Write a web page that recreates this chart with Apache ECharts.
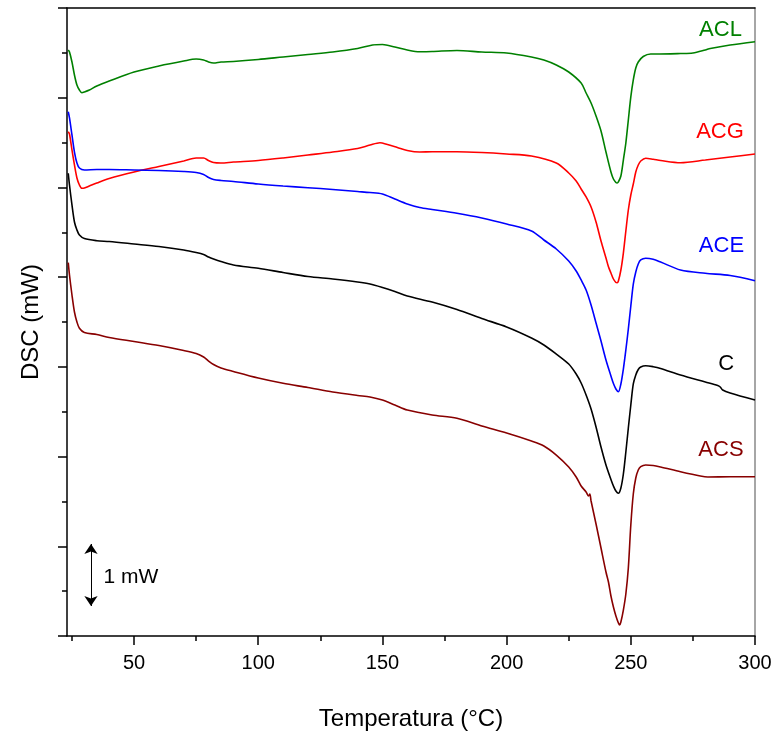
<!DOCTYPE html>
<html><head><meta charset="utf-8">
<script src="https://cdn.jsdelivr.net/npm/echarts@6/dist/echarts.min.js"></script>
<style>html,body{margin:0;padding:0;background:#fff}#c{width:773px;height:736px}</style>
</head><body><div id="c"></div>
<script>
const FONT = 'Liberation Sans, Arial, sans-serif';
const xMajorTicks = [50, 100, 150, 200, 250, 300];
const xMinorTicks = [25, 75, 125, 175, 225, 275];

const aclData = [[23.5,9.452],[24,9.419],[25,9.258],[26,9.048],[27,8.887],[28,8.806],[29,8.763],[30,8.774],[32,8.806],[35,8.871],[40,8.952],[50,9.097],[60,9.194],[70,9.274],[75,9.306],[78,9.290],[80,9.258],[82,9.242],[85,9.258],[90,9.266],[100,9.298],[110,9.339],[120,9.379],[130,9.419],[140,9.476],[146,9.532],[150,9.540],[155,9.5],[160,9.452],[165,9.424],[170,9.427],[180,9.444],[190,9.419],[200,9.403],[210,9.339],[215,9.290],[220,9.210],[225,9.097],[230,8.919],[232,8.758],[234,8.597],[236,8.387],[238,8.145],[240,7.806],[242,7.484],[243,7.371],[244,7.315],[244.5,7.306],[245,7.323],[246,7.419],[247,7.677],[248,7.952],[249,8.323],[250,8.694],[251,8.968],[252,9.161],[253,9.258],[255,9.347],[258,9.387],[260,9.387],[270,9.395],[275,9.403],[280,9.452],[282,9.476],[290,9.532],[300,9.585]];

const acgData = [[23.5,8.134],[24,8.097],[25,7.839],[26,7.597],[27,7.387],[28,7.274],[29,7.221],[30,7.226],[32,7.258],[35,7.306],[40,7.379],[50,7.484],[60,7.573],[70,7.661],[75,7.710],[78,7.710],[80,7.669],[82,7.637],[85,7.629],[90,7.645],[100,7.669],[110,7.710],[120,7.758],[130,7.806],[140,7.863],[145,7.919],[149,7.956],[152,7.927],[156,7.879],[160,7.831],[165,7.806],[170,7.811],[180,7.811],[190,7.798],[200,7.774],[210,7.742],[220,7.629],[225,7.468],[228,7.339],[230,7.210],[232,7.081],[234,6.919],[236,6.677],[238,6.371],[240,6.097],[241,5.956],[242,5.855],[243,5.758],[244,5.702],[244.5,5.698],[245,5.726],[246,5.903],[247,6.177],[248,6.532],[249,6.871],[250,7.113],[251,7.290],[252,7.484],[253,7.597],[254,7.661],[256,7.705],[259,7.689],[262,7.669],[270,7.634],[280,7.677],[290,7.726],[300,7.774]];

const aceData = [[23.5,8.456],[24,8.355],[25,8.081],[26,7.806],[27,7.629],[28,7.548],[30,7.516],[35,7.524],[40,7.524],[50,7.516],[60,7.508],[70,7.492],[75,7.476],[78,7.444],[80,7.395],[82,7.363],[85,7.347],[90,7.331],[100,7.290],[110,7.258],[120,7.231],[130,7.202],[140,7.169],[145,7.153],[150,7.129],[155,7.048],[160,6.968],[165,6.911],[170,6.879],[180,6.818],[190,6.742],[200,6.645],[210,6.532],[215,6.387],[220,6.242],[225,6.048],[228,5.887],[230,5.742],[232,5.581],[234,5.339],[236,5.048],[238,4.758],[240,4.452],[242,4.194],[243,4.073],[244,3.984],[245,3.940],[246,4.065],[247,4.306],[248,4.613],[249,4.952],[250,5.323],[251,5.677],[252,5.871],[253,6.0],[254,6.065],[256,6.092],[259,6.076],[262,6.032],[270,5.903],[280,5.850],[290,5.815],[300,5.731]];

const cData = [[23.5,7.463],[24,7.274],[25,6.952],[26,6.677],[27,6.548],[28,6.468],[30,6.411],[35,6.376],[40,6.363],[50,6.323],[60,6.282],[70,6.226],[75,6.185],[78,6.153],[80,6.113],[82,6.081],[85,6.040],[90,5.984],[100,5.931],[110,5.863],[120,5.798],[130,5.758],[140,5.710],[145,5.677],[150,5.621],[155,5.556],[160,5.484],[170,5.387],[180,5.266],[190,5.121],[200,4.984],[210,4.806],[215,4.694],[220,4.548],[225,4.387],[228,4.226],[230,4.081],[232,3.887],[234,3.661],[236,3.371],[238,3.048],[240,2.758],[242,2.524],[243,2.419],[244,2.339],[245,2.302],[246,2.387],[247,2.613],[248,2.968],[249,3.355],[250,3.726],[251,4.065],[252,4.210],[253,4.298],[254,4.339],[256,4.360],[259,4.344],[262,4.315],[270,4.210],[280,4.097],[285,4.040],[286,4.016],[287,3.968],[290,3.919],[300,3.806]];

const acsData = [[23.5,6.021],[24,5.823],[25,5.5],[26,5.226],[27,5.065],[28,4.963],[30,4.895],[35,4.863],[40,4.815],[50,4.750],[60,4.685],[70,4.605],[75,4.556],[78,4.5],[80,4.435],[82,4.379],[85,4.323],[90,4.266],[100,4.161],[110,4.076],[120,4.008],[130,3.935],[140,3.879],[145,3.855],[150,3.806],[155,3.726],[160,3.645],[170,3.565],[180,3.511],[190,3.387],[200,3.274],[210,3.145],[215,3.065],[220,2.919],[225,2.726],[228,2.565],[230,2.419],[232,2.323],[233,2.258],[233.5,2.290],[234,2.177],[236,1.806],[238,1.419],[240,1.032],[241,0.871],[242,0.645],[243,0.468],[244,0.323],[245,0.210],[245.5,0.177],[246,0.226],[247,0.419],[248,0.677],[249,1.097],[250,1.790],[251,2.290],[252,2.548],[253,2.677],[254,2.731],[256,2.758],[259,2.750],[262,2.726],[270,2.650],[278,2.581],[281,2.565],[290,2.569],[300,2.569]];

const seriesNames = ['ACL', 'ACG', 'ACE', 'C', 'ACS'];
const seriesColors = ['#008000', '#ff0000', '#0000ff', '#000000', '#880000'];
const seriesData = [aclData, acgData, aceData, cData, acsData];
const labelAnchors = [[286.1, 9.782], [285.9, 8.134], [286.5, 6.29], [288.4, 4.395], [286.3, 3.005]];
const scaleBar = [[32.66, 0.484], [32.66, 1.484]];
const scaleLabelAnchor = [48.75, 0.952];

const xMin = 23, xMax = 300, yMin = 0, yMax = 10.129, yInterval = 1.447;

const chart = echarts.init(document.getElementById('c'), null, {renderer: 'canvas'});

const series = seriesData.map((d, i) => ({
  type: 'line', name: seriesNames[i], data: d,
  showSymbol: false, symbol: 'none', silent: true,
  smooth: 0.3,
  lineStyle: {color: seriesColors[i], width: 1.6},
  itemStyle: {color: seriesColors[i]},
  markPoint: {
    symbol: 'circle', symbolSize: 0, silent: true, animation: false,
    data: [{coord: labelAnchors[i], value: seriesNames[i]}],
    label: {show: true, position: 'inside', formatter: seriesNames[i], color: seriesColors[i], fontSize: 22, fontFamily: FONT}
  }
}));

series.push({
  type: 'line', name: 'scale', data: [], silent: true,
  markLine: {
    silent: true, animation: false,
    symbol: ['arrow', 'arrow'], symbolSize: 10,
    lineStyle: {color: '#000', width: 1, type: 'solid'},
    label: {show: false},
    data: [[{coord: scaleBar[0]}, {coord: scaleBar[1]}]]
  },
  markPoint: {
    symbol: 'circle', symbolSize: 0, silent: true, animation: false,
    data: [{coord: scaleLabelAnchor, value: '1 mW'}],
    label: {show: true, position: 'inside', formatter: '1 mW', color: '#000', fontSize: 21, fontFamily: FONT}
  }
});

chart.setOption({
  animation: false,
  backgroundColor: '#fff',
  grid: {left: 67, right: 18, top: 8, bottom: 100, containLabel: false, outerBoundsMode: 'none'},
  xAxis: [
    {
      type: 'value', min: xMin, max: xMax, position: 'bottom',
      name: 'Temperatura (°C)', nameLocation: 'middle', nameGap: 71,
      nameTextStyle: {fontSize: 24, color: '#000', fontFamily: FONT},
      axisLine: {show: true, lineStyle: {color: '#000', width: 1.5}},
      axisTick: {show: true, inside: false, length: 9, customValues: xMajorTicks, lineStyle: {color: '#000', width: 1.5}},
      axisLabel: {show: true, customValues: xMajorTicks, margin: 17, fontSize: 20, color: '#000', fontFamily: FONT},
      splitLine: {show: false}
    },
    {
      type: 'value', min: xMin, max: xMax, position: 'bottom',
      axisLine: {show: false},
      axisTick: {show: true, inside: false, length: 5, customValues: xMinorTicks, lineStyle: {color: '#000', width: 1.5}},
      axisLabel: {show: false},
      splitLine: {show: false}
    },
    {
      type: 'value', min: xMin, max: xMax, position: 'top',
      axisLine: {show: true, lineStyle: {color: '#000', width: 1.5}},
      axisTick: {show: false}, axisLabel: {show: false}, splitLine: {show: false}
    }
  ],
  yAxis: [
    {
      type: 'value', min: yMin, max: yMax, interval: yInterval, position: 'left',
      name: 'DSC (mW)', nameLocation: 'middle', nameRotate: 90, nameGap: 24,
      nameTextStyle: {fontSize: 24, color: '#000', fontFamily: FONT},
      axisLine: {show: true, lineStyle: {color: '#000', width: 1.5}},
      axisTick: {show: true, inside: false, length: 9, lineStyle: {color: '#000', width: 1.5}},
      minorTick: {show: true, splitNumber: 2, length: 5, lineStyle: {color: '#000', width: 1.5}},
      axisLabel: {show: false},
      splitLine: {show: false}, minorSplitLine: {show: false}
    },
    {
      type: 'value', min: yMin, max: yMax, position: 'right',
      axisLine: {show: true, lineStyle: {color: '#888', width: 1.5}},
      axisTick: {show: false}, axisLabel: {show: false}, splitLine: {show: false}
    }
  ],
  series: series
});
</script></body></html>
